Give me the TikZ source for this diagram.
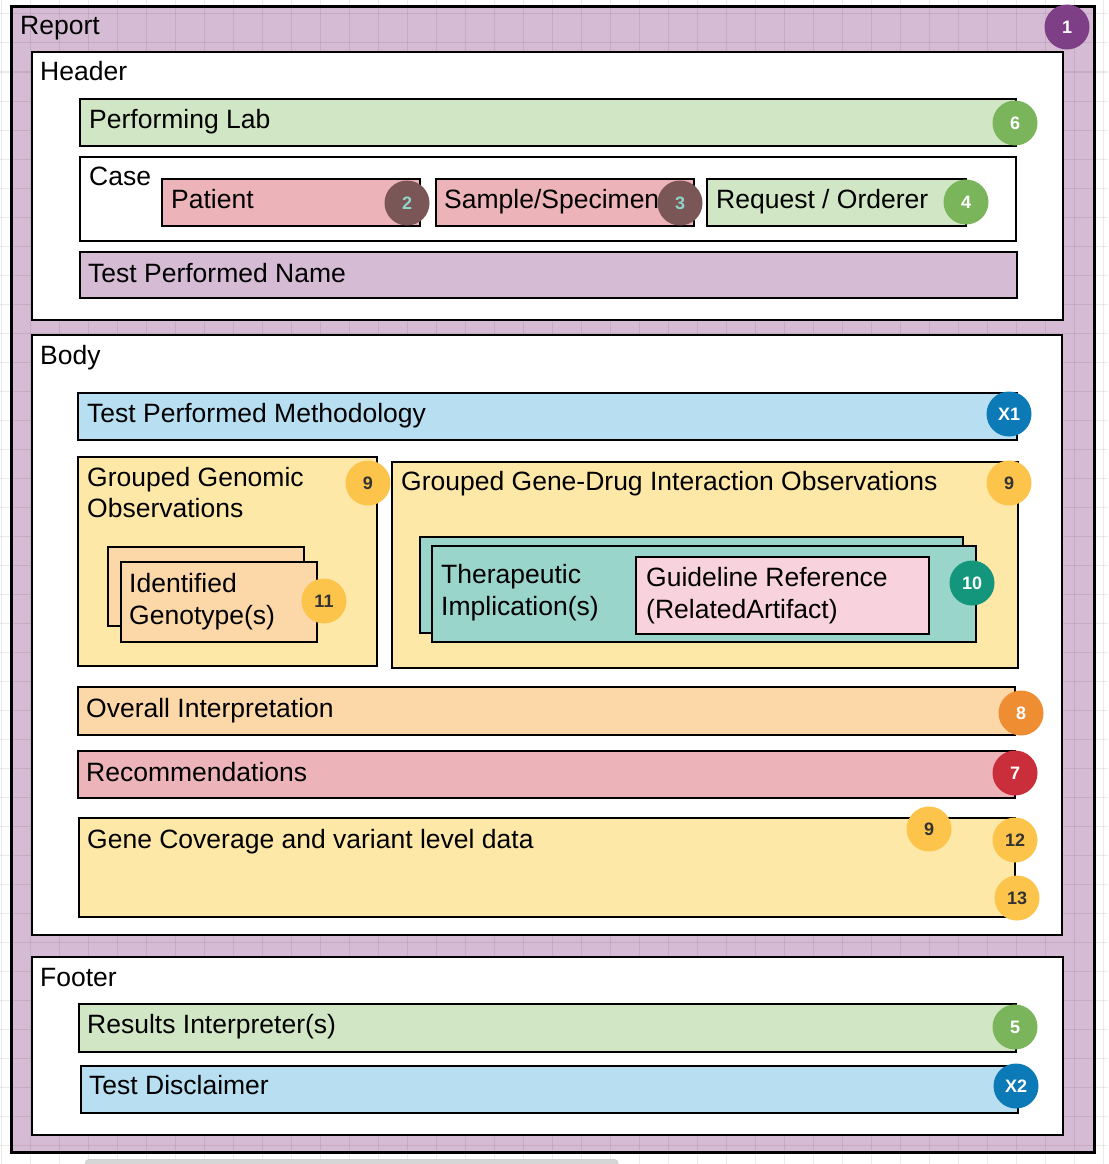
\documentclass[tikz,border=0pt]{standalone}
\usepackage{fontspec}
\setmainfont{Liberation Sans}
\definecolor{cPurple}{HTML}{D5BBD4}
\definecolor{cGreen}{HTML}{D1E6C4}
\definecolor{cPink}{HTML}{ECB3B8}
\definecolor{cBlue}{HTML}{B8DFF1}
\definecolor{cYellow}{HTML}{FEE8A8}
\definecolor{cOrange}{HTML}{FCD7A8}
\definecolor{cTeal}{HTML}{9AD5CB}
\definecolor{cRose}{HTML}{F8D2DC}
\definecolor{bPurple}{HTML}{7E3F86}
\definecolor{bBrown}{HTML}{7B5656}
\definecolor{bBrownTxt}{HTML}{8FD3CB}
\definecolor{bGreen}{HTML}{7AB55C}
\definecolor{bBlue}{HTML}{0C7AB7}
\definecolor{bAmber}{HTML}{FDC44C}
\definecolor{bAmberTxt}{HTML}{333333}
\definecolor{bTeal}{HTML}{13967B}
\definecolor{bOrange}{HTML}{EF8D32}
\definecolor{bRed}{HTML}{CB2E3B}
\begin{document}
\begin{tikzpicture}[x=1pt,y=-1pt,
  box/.style={draw=black, line width=2.8pt, inner sep=0pt, outer sep=0pt, anchor=north west},
  lbl/.style={anchor=base west, inner sep=0pt, font=\fontsize{26.5}{31.5}\selectfont},
  badge/.style={circle, minimum size=45pt, inner sep=0pt, font=\fontsize{18}{18}\selectfont\bfseries, text=white},
  gridline/.style={draw=black, opacity=0.08, line width=1pt}]
\useasboundingbox (0,0) rectangle (1108,1164);
\fill[white] (0,0) rectangle (1108,1164);
% report background
\node[box, draw=none, fill=cPurple, minimum width=1083pt, minimum height=1145pt] (report) at (11,7) {};
% grid
\foreach \x in {1,30,...,1108} \draw[gridline] (\x,0) -- (\x,1164);
\foreach \y in {14,43,...,1164} \draw[gridline] (0,\y) -- (1108,\y);
\draw[line width=3pt] (report.north west) rectangle (report.south east);
\node[lbl] (reportL) at (20,35) {Report};
% scrollbar
\node[anchor=north west, fill=black!16, draw=black!22, rounded corners=4pt, minimum width=533pt, minimum height=10pt, inner sep=0pt] (scroll) at (85,1159) {};
% Header
\node[box, fill=white, minimum width=1031pt, minimum height=268pt] (header) at (32,52) {};
\node[lbl] (headerL) at (40,81) {Header};
\node[box, fill=cGreen, minimum width=936pt, minimum height=47pt] (perf) at (80,99) {};
\node[lbl] (perfL) at (89,128) {Performing Lab};
\node[box, fill=white, minimum width=936pt, minimum height=84pt] (case) at (80,157) {};
\node[lbl] (caseL) at (89,185) {Case};
\node[box, fill=cPink, minimum width=258pt, minimum height=47pt] (patient) at (162,179) {};
\node[lbl] (patientL) at (171,208) {Patient};
\node[box, fill=cPink, minimum width=258pt, minimum height=47pt] (sample) at (436,179) {};
\node[lbl] (sampleL) at (444,208) {Sample/Specimen};
\node[box, fill=cGreen, minimum width=259pt, minimum height=47pt] (request) at (707,179) {};
\node[lbl] (requestL) at (716,208) {Request / Orderer};
\node[box, fill=cPurple, minimum width=937pt, minimum height=46pt] (tpn) at (80,252) {};
\node[lbl] (tpnL) at (88,282) {Test Performed Name};
% Body
\node[box, fill=white, minimum width=1030pt, minimum height=600pt] (body) at (32,335) {};
\node[lbl] (bodyL) at (40,364) {Body};
\node[box, fill=cBlue, minimum width=939pt, minimum height=47pt] (tpm) at (78,393) {};
\node[lbl] (tpmL) at (87,422) {Test Performed Methodology};
\node[box, fill=cYellow, minimum width=299pt, minimum height=209pt] (ggo) at (78,457) {};
\node[lbl] (ggoL1) at (87,486) {Grouped Genomic};
\node[lbl] (ggoL2) at (87,517) {Observations};
\node[box, fill=cOrange, minimum width=196pt, minimum height=79pt] (idBack) at (108,547) {};
\node[box, fill=cOrange, minimum width=196pt, minimum height=80pt] (idFront) at (121,562) {};
\node[lbl] (idL1) at (129,592) {Identified};
\node[lbl] (idL2) at (129,624) {Genotype(s)};
\node[box, fill=cYellow, minimum width=626pt, minimum height=206pt] (gdi) at (392,462) {};
\node[lbl] (gdiL) at (401,490) {Grouped Gene-Drug Interaction Observations};
\node[box, fill=cTeal, minimum width=543pt, minimum height=96pt] (tiBack) at (420,537) {};
\node[box, fill=cTeal, minimum width=544pt, minimum height=96pt] (tiFront) at (432,546) {};
\node[lbl] (tiL1) at (441,583) {Therapeutic};
\node[lbl] (tiL2) at (441,615) {Implication(s)};
\node[box, fill=cRose, minimum width=293pt, minimum height=77pt] (guide) at (636,557) {};
\node[lbl] (guideL1) at (646,586) {Guideline Reference};
\node[lbl] (guideL2) at (646,618) {(RelatedArtifact)};
\node[box, fill=cOrange, minimum width=937pt, minimum height=48pt] (overall) at (78,687) {};
\node[lbl] (overallL) at (86,717) {Overall Interpretation};
\node[box, fill=cPink, minimum width=937pt, minimum height=47pt] (recs) at (78,751) {};
\node[lbl] (recsL) at (86,781) {Recommendations};
\node[box, fill=cYellow, minimum width=936pt, minimum height=99pt] (gene) at (79,818) {};
\node[lbl] (geneL) at (87,848) {Gene Coverage and variant level data};
% Footer
\node[box, fill=white, minimum width=1031pt, minimum height=178pt] (footer) at (32,957) {};
\node[lbl] (footerL) at (40,986) {Footer};
\node[box, fill=cGreen, minimum width=937pt, minimum height=48pt] (results) at (79,1004) {};
\node[lbl] (resultsL) at (87,1033) {Results Interpreter(s)};
\node[box, fill=cBlue, minimum width=937pt, minimum height=47pt] (disc) at (81,1066) {};
\node[lbl] (discL) at (89,1094) {Test Disclaimer};
% badges
\node[badge, fill=bPurple] (b1) at (1067,27) {1};
\node[badge, fill=bGreen] (b6) at (1015,123) {6};
\node[badge, fill=bBrown, text=bBrownTxt] (b2) at (407,203) {2};
\node[badge, fill=bBrown, text=bBrownTxt] (b3) at (680,203) {3};
\node[badge, fill=bGreen] (b4) at (966,202) {4};
\node[badge, fill=bBlue] (bX1) at (1009,414) {X1};
\node[badge, fill=bAmber, text=bAmberTxt] (b9a) at (368,483) {9};
\node[badge, fill=bAmber, text=bAmberTxt] (b11) at (324,601) {11};
\node[badge, fill=bAmber, text=bAmberTxt] (b9b) at (1009,483) {9};
\node[badge, fill=bTeal] (b10) at (972,583) {10};
\node[badge, fill=bOrange] (b8) at (1021,713) {8};
\node[badge, fill=bRed] (b7) at (1015,773) {7};
\node[badge, fill=bAmber, text=bAmberTxt] (b9c) at (929,829) {9};
\node[badge, fill=bAmber, text=bAmberTxt] (b12) at (1015,840) {12};
\node[badge, fill=bAmber, text=bAmberTxt] (b13) at (1017,898) {13};
\node[badge, fill=bGreen] (b5) at (1015,1027) {5};
\node[badge, fill=bBlue] (bX2) at (1016,1086) {X2};
\end{tikzpicture}
\end{document}
